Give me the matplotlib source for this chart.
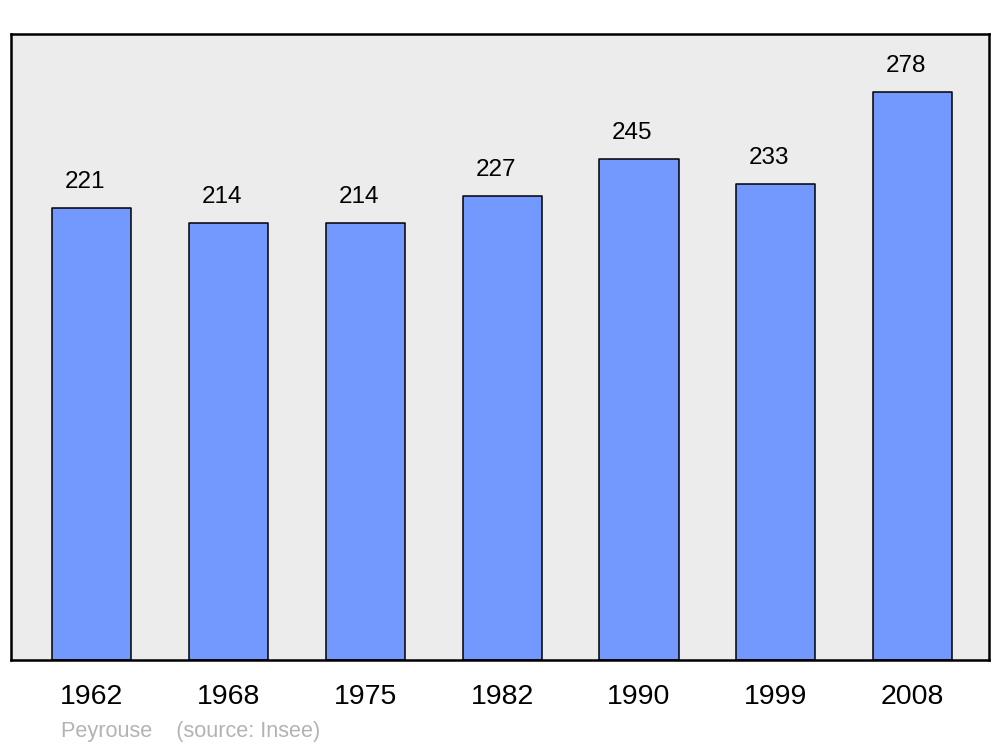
import matplotlib
matplotlib.use("Agg")
import matplotlib.pyplot as plt

plt.rcParams['font.family'] = ['Liberation Sans', 'DejaVu Sans']

years = ["1962", "1968", "1975", "1982", "1990", "1999", "2008"]
population = [221, 214, 214, 227, 245, 233, 278]

fig = plt.figure(figsize=(10, 7.47), dpi=100)
ax = fig.add_axes([0.011, 1 - 660 / 747, 0.978, (660 - 34) / 747])
ax.set_facecolor('#ececec')

x = list(range(len(years)))
bars = ax.bar(x, population, width=0.578, color='#7399ff', edgecolor='black',
              linewidth=1.1, zorder=2)
for b in bars:
    b.set_joinstyle('round')

for xi, v in zip(x, population):
    ax.annotate(str(v), (xi, v), xytext=(-4.7, 18.8), textcoords='offset points',
                ha='center', va='center', fontsize=17.5, color='black')

ax.set_xlim(-0.592, 6.559)
ax.set_ylim(0, 306.3)
ax.set_xticks(x)
ax.set_xticklabels(years, fontsize=20.5)
ax.tick_params(axis='x', length=0, pad=17)
ax.set_yticks([])
for s in ax.spines.values():
    s.set_linewidth(1.8)
    s.set_joinstyle('round')

fig.text(0.061, 1 - 731.5 / 747, "Peyrouse    (source: Insee)", fontsize=15.6,
         color='#b3b3b3', ha='left', va='center')

fig.savefig('out.png', dpi=100, facecolor='white')
